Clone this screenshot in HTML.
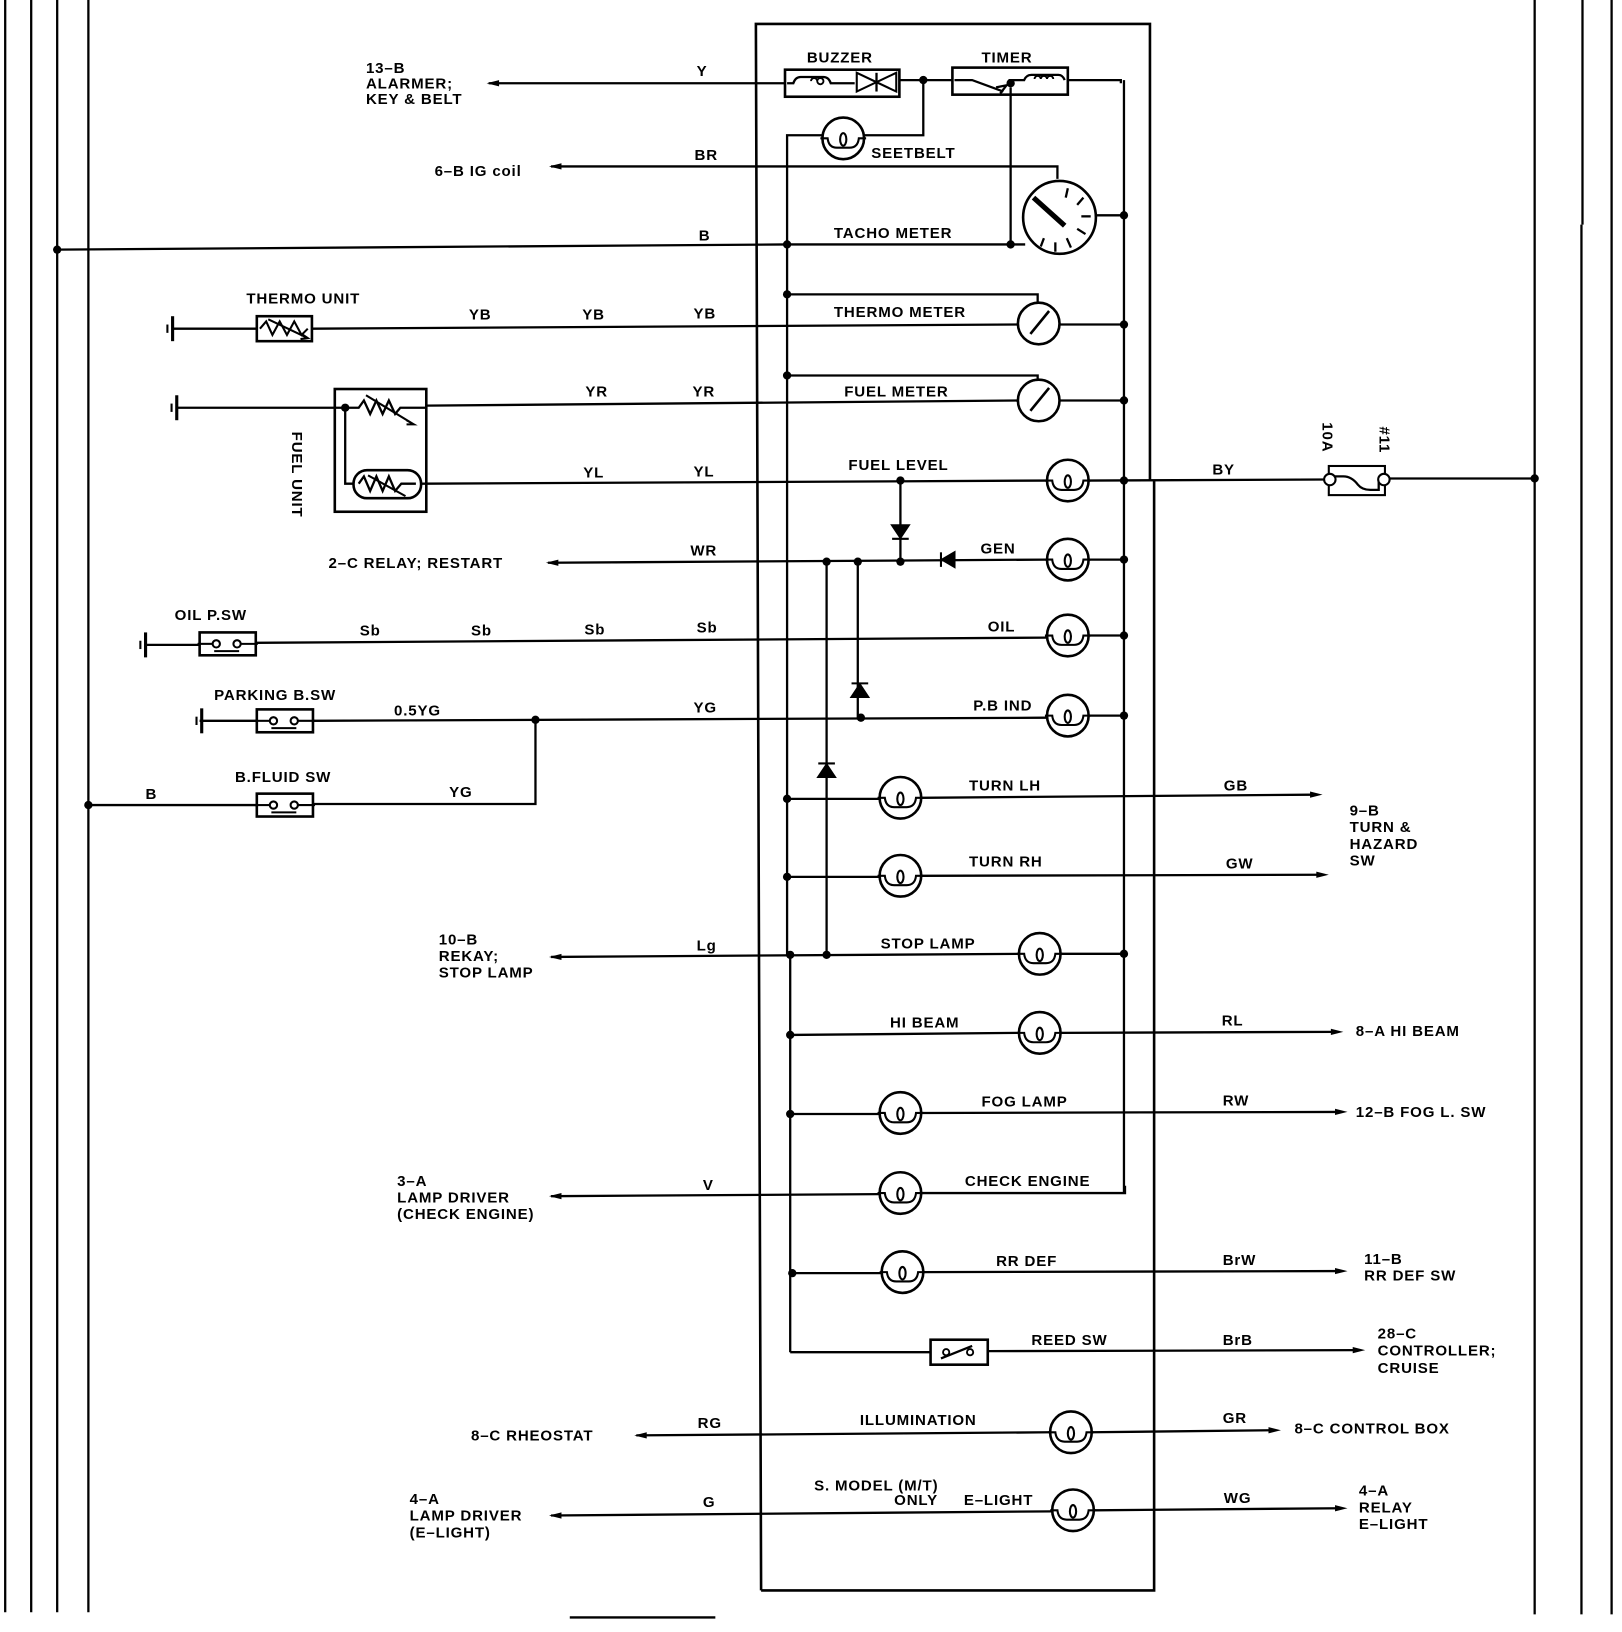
<!DOCTYPE html>
<html><head><meta charset="utf-8"><style>
html,body{margin:0;padding:0;background:#fff;}
svg{display:block;}
text{font-family:"Liberation Sans",sans-serif;font-weight:bold;font-size:14.5px;fill:#000;letter-spacing:0.8px;}
</style></head><body>
<svg width="1622" height="1632" viewBox="0 0 1560 1569" preserveAspectRatio="none" xmlns="http://www.w3.org/2000/svg">
<defs>
<g id="lamp"><circle r="20" fill="#fff" stroke="#000" stroke-width="2.5"/><path d="M-22,0 H-15 Q-14,9 -6,9 H6 Q14,9 15,0 H22" fill="none" stroke="#000" stroke-width="2"/><ellipse cx="0" cy="1" rx="3" ry="6" fill="none" stroke="#000" stroke-width="2"/></g>
<g id="gauge"><circle r="20" fill="#fff" stroke="#000" stroke-width="2.5"/><line x1="-8" y1="10" x2="10" y2="-12" stroke="#000" stroke-width="2.5"/></g>
<g id="gnd"><line x1="0" y1="-12" x2="0" y2="12" stroke="#000" stroke-width="3"/><line x1="-5" y1="-4" x2="-5" y2="4" stroke="#000" stroke-width="2"/></g>
<g id="sw"><rect x="0" y="-11" width="54" height="22" fill="#fff" stroke="#000" stroke-width="2.5"/><line x1="-2" y1="0" x2="12" y2="0" stroke="#000" stroke-width="2"/><circle cx="16" cy="0" r="3.5" fill="#fff" stroke="#000" stroke-width="2"/><circle cx="36" cy="0" r="3.5" fill="#fff" stroke="#000" stroke-width="2"/><line x1="40" y1="0" x2="56" y2="0" stroke="#000" stroke-width="2"/><line x1="14" y1="7" x2="38" y2="7" stroke="#000" stroke-width="2"/></g>
<path id="arL" d="M0,0 L12,-3 L12,3 Z"/>
<path id="arR" d="M0,0 L-12,-3 L-12,3 Z"/>
</defs>
<g stroke="#000" stroke-width="2.2" fill="none">
<line x1="5" y1="0" x2="5" y2="1550"/>
<line x1="30" y1="0" x2="30" y2="1550"/>
<line x1="55" y1="0" x2="55" y2="1550"/>
<line x1="85" y1="0" x2="85" y2="1550"/>
<line x1="1476" y1="0" x2="1476" y2="1552"/>
<line x1="1522" y1="0" x2="1522" y2="216"/>
<line x1="1521" y1="216" x2="1521" y2="1552"/>
<line x1="1550" y1="0" x2="1550" y2="1552"/>
<line x1="548" y1="1555" x2="688" y2="1555"/>
<!-- box -->
<path d="M732,1529 L727,23 H1106 V462" stroke-width="2.5"/>
<path d="M732,1529 H1110 V462" stroke-width="2.5"/>
<!-- buses -->
<line x1="1081" y1="77" x2="1081" y2="1147"/>
<path d="M1027,77 H1078 V80"/>
<path d="M888,77 V130 H831"/>
<path d="M791,130 H757 V918"/>
<path d="M760,918 V1300"/>
<line x1="972" y1="84" x2="972" y2="235"/>
<line x1="470" y1="80" x2="755" y2="80"/>
<line x1="865" y1="77" x2="916" y2="77"/>
<rect x="755" y="67" width="110" height="26" stroke-width="2.5"/>
<rect x="916" y="65" width="111" height="26" stroke-width="2.5"/>
<path d="M757,80 H763 Q765,74 770,74 H792 Q797,74 799,80 H822"/>
<path d="M780,78 a3,3 0 1 1 6,0 a3,3 0 1 1 6,0 a3,3 0 1 1 -6,0" stroke-width="1.8"/>
<path d="M824,70 V88 L862,70 V88 Z" stroke-width="2"/>
<line x1="843" y1="70" x2="843" y2="88"/>
<path d="M918,77 H935 L965,88"/>
<path d="M970,77 H985 Q987,72 992,72 H1018 Q1022,72 1024,77"/>
<path d="M995,76 a3,3 0 1 1 6,0 a3,3 0 1 1 6,0 a3,3 0 1 1 6,0" stroke-width="1.8"/>
<path d="M958,84 L968,82 L962,90"/>
<path d="M530,160 H1017 V172"/>
<line x1="55" y1="240" x2="757" y2="235"/>
<line x1="757" y1="235" x2="986" y2="235"/>
<line x1="1054" y1="207" x2="1081" y2="207"/>
<circle cx="1019" cy="209" r="35" stroke-width="2.5"/>
<line x1="994" y1="190" x2="1024" y2="217" stroke-width="5"/>
<line x1="1027" y1="181" x2="1025" y2="190"/>
<line x1="1042" y1="190" x2="1036" y2="197"/>
<line x1="1049" y1="208" x2="1040" y2="208"/>
<line x1="1044" y1="225" x2="1036" y2="220"/>
<line x1="1030" y1="238" x2="1026" y2="229"/>
<line x1="1015" y1="242" x2="1015" y2="233"/>
<line x1="1001" y1="237" x2="1004" y2="229"/>
<path d="M757,283 H998 V291"/>
<path d="M757,361 H998 V365"/>
<line x1="166" y1="316" x2="247" y2="316"/>
<rect x="247" y="304" width="53" height="24" stroke-width="2.5"/>
<path d="M250,316 L256,309 L262,322 L269,309 L276,322 L283,309 L290,322 L296,316" stroke-width="2"/>
<path d="M258,307 L296,325 M290,321 L296,325 L289,326" stroke-width="2"/>
<line x1="300" y1="316" x2="980" y2="312"/>
<line x1="1019" y1="312" x2="1081" y2="312"/>
<line x1="170" y1="392" x2="332" y2="392"/>
<rect x="322" y="374" width="88" height="118" stroke-width="2.5"/>
<path d="M332,392 H345 L350,385 L356,398 L362,385 L368,398 L374,385 L380,398 L385,392 H410"/>
<path d="M352,380 L398,408 M391,404 L398,408 L391,408" stroke-width="2"/>
<path d="M332,392 V465 H340"/>
<rect x="340" y="452" width="65" height="27" rx="13" stroke-width="2.5"/>
<path d="M345,465 L350,458 L356,472 L362,458 L368,472 L374,458 L380,472 L386,465 H400"/>
<path d="M354,457 L390,477" stroke-width="2"/>
<line x1="410" y1="390" x2="980" y2="385"/>
<line x1="1019" y1="385" x2="1081" y2="385"/>
<line x1="405" y1="465" x2="1007" y2="462"/>
<line x1="1047" y1="462" x2="1275" y2="461"/>
<line x1="1335" y1="460" x2="1476" y2="460"/>
<rect x="1278" y="448" width="54" height="28" stroke-width="2"/>
<path d="M1282,458 H1292 Q1300,458 1306,466 Q1310,471 1318,471 H1326 V461"/>
<line x1="866" y1="462" x2="866" y2="540"/>
<line x1="795" y1="540" x2="795" y2="918"/>
<line x1="825" y1="540" x2="825" y2="690"/>
<line x1="527" y1="541" x2="1007" y2="538"/>
<line x1="1047" y1="538" x2="1081" y2="538"/>
<line x1="140" y1="620" x2="192" y2="620"/>
<line x1="246" y1="618" x2="1007" y2="613"/>
<line x1="1047" y1="611" x2="1081" y2="611"/>
<line x1="192" y1="693" x2="246" y2="693"/>
<line x1="300" y1="693" x2="1007" y2="690"/>
<line x1="1047" y1="688" x2="1081" y2="688"/>
<line x1="85" y1="774" x2="247" y2="774"/>
<path d="M301,773 H515 V692"/>
<line x1="757" y1="768" x2="846" y2="768"/>
<line x1="886" y1="767" x2="1262" y2="764"/>
<line x1="757" y1="843" x2="846" y2="843"/>
<line x1="886" y1="842" x2="1268" y2="841"/>
<line x1="530" y1="920" x2="980" y2="917"/>
<line x1="1020" y1="917" x2="1081" y2="917"/>
<line x1="760" y1="995" x2="980" y2="993"/>
<line x1="1020" y1="993" x2="1285" y2="992"/>
<line x1="760" y1="1071" x2="846" y2="1071"/>
<line x1="886" y1="1070" x2="1290" y2="1069"/>
<line x1="530" y1="1150" x2="846" y2="1148"/>
<path d="M886,1147 H1082 V1140"/>
<line x1="760" y1="1224" x2="848" y2="1224"/>
<line x1="888" y1="1223" x2="1290" y2="1222"/>
<line x1="760" y1="1300" x2="895" y2="1300"/>
<line x1="950" y1="1299" x2="1305" y2="1298"/>
<rect x="895" y="1288" width="55" height="24" stroke-width="2.5"/>
<path d="M905,1306 L935,1294"/>
<line x1="612" y1="1380" x2="1010" y2="1377"/>
<line x1="1050" y1="1377" x2="1225" y2="1375"/>
<line x1="530" y1="1457" x2="1012" y2="1453"/>
<line x1="1052" y1="1452" x2="1290" y2="1450"/>
</g>
<circle cx="910" cy="1300" r="3" fill="#fff" stroke="#000" stroke-width="1.8"/>
<circle cx="933" cy="1300" r="3" fill="#fff" stroke="#000" stroke-width="1.8"/>
<circle cx="1279" cy="461" r="5.5" fill="#fff" stroke="#000" stroke-width="2"/>
<circle cx="1331" cy="461" r="5.5" fill="#fff" stroke="#000" stroke-width="2"/>
<use href="#lamp" x="811" y="133"/>
<use href="#lamp" x="1027" y="462"/>
<use href="#lamp" x="1027" y="538"/>
<use href="#lamp" x="1027" y="611"/>
<use href="#lamp" x="1027" y="688"/>
<use href="#lamp" x="866" y="767"/>
<use href="#lamp" x="866" y="842"/>
<use href="#lamp" x="1000" y="917"/>
<use href="#lamp" x="1000" y="993"/>
<use href="#lamp" x="866" y="1070"/>
<use href="#lamp" x="866" y="1147"/>
<use href="#lamp" x="868" y="1223"/>
<use href="#lamp" x="1030" y="1377"/>
<use href="#lamp" x="1032" y="1452"/>
<use href="#gauge" x="999" y="311"/>
<use href="#gauge" x="999" y="385"/>
<use href="#gnd" x="166" y="316"/>
<use href="#gnd" x="170" y="392"/>
<use href="#gnd" x="140" y="620"/>
<use href="#gnd" x="194" y="693"/>
<use href="#sw" x="192" y="619"/>
<use href="#sw" x="247" y="693"/>
<use href="#sw" x="247" y="774"/>
<g fill="#000" stroke="#000" stroke-width="2">
<path d="M858,505 H874 L866,517 Z"/><line x1="858" y1="518" x2="874" y2="518"/>
<path d="M918,531 V545 L906,538 Z"/><line x1="905" y1="531" x2="905" y2="545"/>
<path d="M819,670 H835 L827,658 Z"/><line x1="819" y1="657" x2="835" y2="657"/>
<path d="M787,747 H803 L795,735 Z"/><line x1="787" y1="734" x2="803" y2="734"/>
</g>
<g fill="#000">
<circle cx="55" cy="240" r="4"/><circle cx="85" cy="774" r="4"/><circle cx="1476" cy="460" r="4"/>
<circle cx="888" cy="77" r="4"/><circle cx="972" cy="80" r="4"/>
<circle cx="757" cy="235" r="4"/><circle cx="972" cy="235" r="4"/><circle cx="1081" cy="207" r="4"/>
<circle cx="757" cy="283" r="4"/><circle cx="757" cy="361" r="4"/>
<circle cx="1081" cy="312" r="4"/><circle cx="1081" cy="385" r="4"/><circle cx="1081" cy="462" r="4"/>
<circle cx="1081" cy="538" r="4"/><circle cx="1081" cy="611" r="4"/><circle cx="1081" cy="688" r="4"/><circle cx="1081" cy="917" r="4"/>
<circle cx="866" cy="462" r="4"/><circle cx="866" cy="540" r="4"/><circle cx="795" cy="540" r="4"/><circle cx="825" cy="540" r="4"/>
<circle cx="828" cy="690" r="4"/><circle cx="515" cy="692" r="4"/><circle cx="332" cy="392" r="4"/>
<circle cx="757" cy="768" r="4"/><circle cx="757" cy="843" r="4"/><circle cx="760" cy="918" r="4"/><circle cx="795" cy="918" r="4"/>
<circle cx="760" cy="995" r="4"/><circle cx="760" cy="1071" r="4"/><circle cx="762" cy="1224" r="4"/>
<use href="#arL" x="468" y="80"/><use href="#arL" x="528" y="160"/><use href="#arL" x="525" y="541"/>
<use href="#arL" x="528" y="920"/><use href="#arL" x="528" y="1150"/><use href="#arL" x="610" y="1380"/><use href="#arL" x="528" y="1457"/>
<use href="#arR" x="1272" y="764"/><use href="#arR" x="1278" y="841"/><use href="#arR" x="1292" y="992"/>
<use href="#arR" x="1296" y="1069"/><use href="#arR" x="1296" y="1222"/><use href="#arR" x="1313" y="1298"/>
<use href="#arR" x="1232" y="1375"/><use href="#arR" x="1296" y="1450"/>
</g>
<text x="352" y="70">13–B</text>
<text x="352" y="85">ALARMER;</text>
<text x="352" y="100">KEY &amp; BELT</text>
<text x="670" y="73">Y</text>
<text x="776" y="60">BUZZER</text>
<text x="944" y="60">TIMER</text>
<text x="838" y="152">SEETBELT</text>
<text x="418" y="169">6–B IG coil</text>
<text x="668" y="154">BR</text>
<text x="672" y="231">B</text>
<text x="802" y="229">TACHO METER</text>
<text x="237" y="292">THERMO UNIT</text>
<text x="451" y="307">YB</text>
<text x="560" y="307">YB</text>
<text x="667" y="306">YB</text>
<text x="802" y="305">THERMO METER</text>
<text x="563" y="381">YR</text>
<text x="666" y="381">YR</text>
<text x="812" y="381">FUEL METER</text>
<text transform="translate(281,415) rotate(90)">FUEL UNIT</text>
<text x="561" y="459">YL</text>
<text x="667" y="458">YL</text>
<text x="816" y="452">FUEL LEVEL</text>
<text x="1166" y="456">BY</text>
<text transform="translate(1272,406) rotate(90)">10A</text>
<text transform="translate(1327,410) rotate(90)">#11</text>
<text x="316" y="546">2–C RELAY; RESTART</text>
<text x="664" y="534">WR</text>
<text x="943" y="532">GEN</text>
<text x="168" y="596">OIL P.SW</text>
<text x="346" y="611">Sb</text>
<text x="453" y="611">Sb</text>
<text x="562" y="610">Sb</text>
<text x="670" y="608">Sb</text>
<text x="950" y="607">OIL</text>
<text x="206" y="673">PARKING B.SW</text>
<text x="379" y="688">0.5YG</text>
<text x="667" y="685">YG</text>
<text x="936" y="683">P.B IND</text>
<text x="226" y="752">B.FLUID SW</text>
<text x="140" y="768">B</text>
<text x="432" y="766">YG</text>
<text x="932" y="760">TURN LH</text>
<text x="1177" y="760">GB</text>
<text x="1298" y="784">9–B</text>
<text x="1298" y="800">TURN &amp;</text>
<text x="1298" y="816">HAZARD</text>
<text x="1298" y="832">SW</text>
<text x="932" y="833">TURN RH</text>
<text x="1179" y="835">GW</text>
<text x="422" y="908">10–B</text>
<text x="422" y="924">REKAY;</text>
<text x="422" y="940">STOP LAMP</text>
<text x="670" y="914">Lg</text>
<text x="847" y="912">STOP LAMP</text>
<text x="856" y="988">HI BEAM</text>
<text x="1175" y="986">RL</text>
<text x="1304" y="996">8–A HI BEAM</text>
<text x="944" y="1064">FOG LAMP</text>
<text x="1176" y="1063">RW</text>
<text x="1304" y="1074">12–B FOG L. SW</text>
<text x="382" y="1140">3–A</text>
<text x="382" y="1156">LAMP DRIVER</text>
<text x="382" y="1172">(CHECK ENGINE)</text>
<text x="676" y="1144">V</text>
<text x="928" y="1140">CHECK ENGINE</text>
<text x="958" y="1217">RR DEF</text>
<text x="1176" y="1216">BrW</text>
<text x="1312" y="1215">11–B</text>
<text x="1312" y="1231">RR DEF SW</text>
<text x="992" y="1293">REED SW</text>
<text x="1176" y="1293">BrB</text>
<text x="1325" y="1287">28–C</text>
<text x="1325" y="1303">CONTROLLER;</text>
<text x="1325" y="1320">CRUISE</text>
<text x="453" y="1385">8–C RHEOSTAT</text>
<text x="671" y="1373">RG</text>
<text x="827" y="1370">ILLUMINATION</text>
<text x="1176" y="1368">GR</text>
<text x="1245" y="1378">8–C CONTROL BOX</text>
<text x="394" y="1446">4–A</text>
<text x="394" y="1462">LAMP DRIVER</text>
<text x="394" y="1478">(E–LIGHT)</text>
<text x="676" y="1449">G</text>
<text x="783" y="1433">S. MODEL (M/T)</text>
<text x="860" y="1447">ONLY</text>
<text x="927" y="1447">E–LIGHT</text>
<text x="1177" y="1445">WG</text>
<text x="1307" y="1438">4–A</text>
<text x="1307" y="1454">RELAY</text>
<text x="1307" y="1470">E–LIGHT</text>
</svg>
</body></html>
